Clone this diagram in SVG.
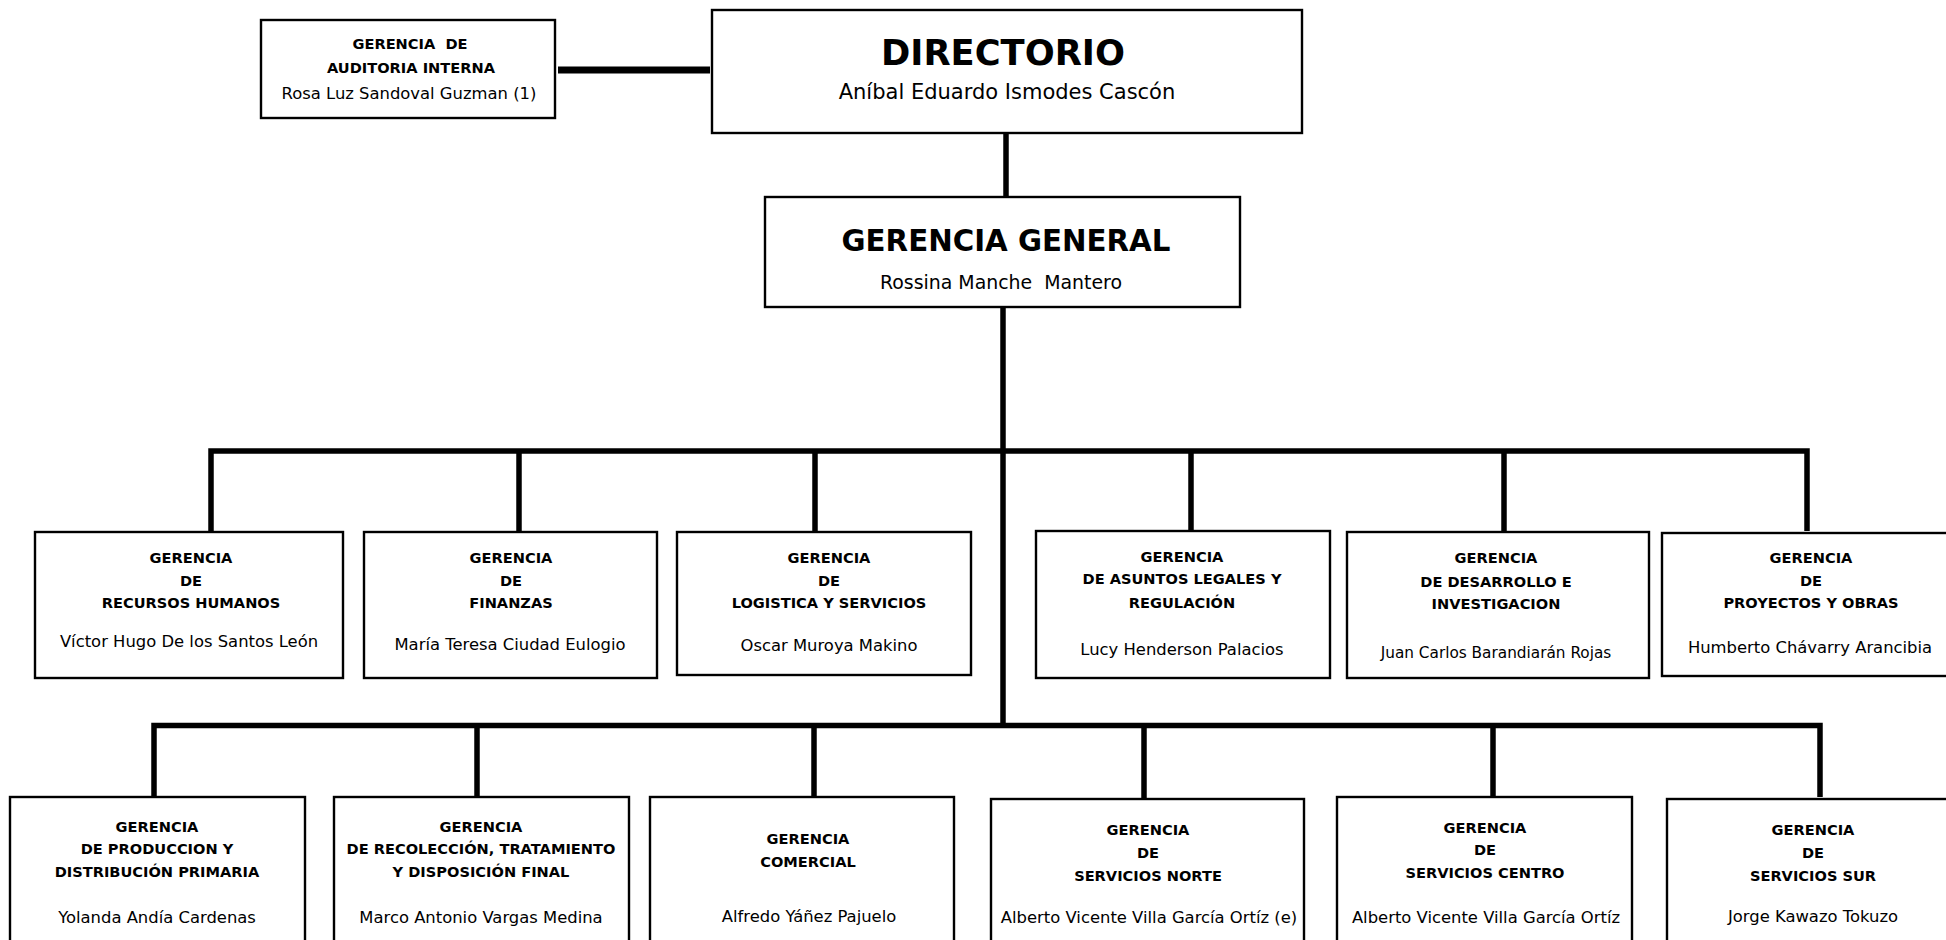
<svg xmlns="http://www.w3.org/2000/svg" width="1946" height="940" viewBox="0 0 1946 940">
<style>
.bg{fill:#ffffff}
.box{fill:#ffffff;stroke:#000000;stroke-width:2.4}
.con{fill:none;stroke:#000000;stroke-width:5.5;stroke-linecap:butt;stroke-linejoin:miter}
text{font-family:"DejaVu Sans","Liberation Sans",sans-serif;fill:#000000;text-anchor:middle}
.h{font-weight:bold;font-size:14.6px}
.n{font-size:16.4px}
.pre{white-space:pre}
</style>
<rect class="bg" x="0" y="0" width="1946" height="940"/>
<g id="connectors">
<line class="con" x1="558" y1="70" x2="710" y2="70" style="stroke-width:7"/>
<line class="con" x1="1006" y1="134" x2="1006" y2="196"/>
<line class="con" x1="1003" y1="308" x2="1003" y2="728"/>
<path class="con" d="M211,531 V451 H1807 V531"/>
<line class="con" x1="519" y1="451" x2="519" y2="531"/>
<line class="con" x1="815" y1="451" x2="815" y2="531"/>
<line class="con" x1="1191" y1="451" x2="1191" y2="531"/>
<line class="con" x1="1504" y1="451" x2="1504" y2="531"/>
<path class="con" d="M154,796 V725.5 H1820 V797"/>
<line class="con" x1="477" y1="725.5" x2="477" y2="796"/>
<line class="con" x1="814" y1="725.5" x2="814" y2="796"/>
<line class="con" x1="1144" y1="725.5" x2="1144" y2="798"/>
<line class="con" x1="1493" y1="725.5" x2="1493" y2="796"/>
</g>
<g id="auditoria">
<rect class="box" x="261" y="20" width="294" height="98"/>
<text class="h pre" x="410" y="49">GERENCIA  DE</text>
<text class="h" x="411" y="73">AUDITORIA INTERNA</text>
<text class="n" x="409" y="99">Rosa Luz Sandoval Guzman (1)</text>
</g>
<g id="directorio">
<rect class="box" x="712" y="10" width="590" height="123"/>
<text x="1003" y="65" style="font-weight:bold;font-size:35.3px">DIRECTORIO</text>
<text x="1007" y="99" style="font-size:21px">Aníbal Eduardo Ismodes Cascón</text>
</g>
<g id="gerencia-general">
<rect class="box" x="765" y="197" width="475" height="110"/>
<text x="1006" y="251" style="font-weight:bold;font-size:29.3px">GERENCIA GENERAL</text>
<text class="pre" x="1001" y="289" style="font-size:18.9px">Rossina Manche  Mantero</text>
</g>
<g id="recursos-humanos">
<rect class="box" x="35" y="532" width="308" height="146"/>
<text class="h" x="191" y="563">GERENCIA</text>
<text class="h" x="191" y="586">DE</text>
<text class="h" x="191" y="608">RECURSOS HUMANOS</text>
<text class="n" x="189" y="647">Víctor Hugo De los Santos León</text>
</g>
<g id="finanzas">
<rect class="box" x="364" y="532" width="293" height="146"/>
<text class="h" x="511" y="563">GERENCIA</text>
<text class="h" x="511" y="586">DE</text>
<text class="h" x="511" y="608">FINANZAS</text>
<text class="n" x="510" y="650">María Teresa Ciudad Eulogio</text>
</g>
<g id="logistica">
<rect class="box" x="677" y="532" width="294" height="143"/>
<text class="h" x="829" y="563">GERENCIA</text>
<text class="h" x="829" y="586">DE</text>
<text class="h" x="829" y="608">LOGISTICA Y SERVICIOS</text>
<text class="n" x="829" y="651">Oscar Muroya Makino</text>
</g>
<g id="asuntos-legales">
<rect class="box" x="1036" y="531" width="294" height="147"/>
<text class="h" x="1182" y="562">GERENCIA</text>
<text class="h" x="1182" y="584">DE ASUNTOS LEGALES Y</text>
<text class="h" x="1182" y="608">REGULACIÓN</text>
<text class="n" x="1182" y="655">Lucy Henderson Palacios</text>
</g>
<g id="desarrollo">
<rect class="box" x="1347" y="532" width="302" height="146"/>
<text class="h" x="1496" y="563">GERENCIA</text>
<text class="h" x="1496" y="587">DE DESARROLLO E</text>
<text class="h" x="1496" y="609">INVESTIGACION</text>
<text x="1496" y="658" style="font-size:15.3px">Juan Carlos Barandiarán Rojas</text>
</g>
<g id="proyectos">
<rect class="box" x="1662" y="533" width="300" height="143"/>
<text class="h" x="1811" y="563">GERENCIA</text>
<text class="h" x="1811" y="586">DE</text>
<text class="h" x="1811" y="608">PROYECTOS Y OBRAS</text>
<text class="n" x="1810" y="653">Humberto Chávarry Arancibia</text>
</g>
<g id="produccion">
<rect class="box" x="10" y="797" width="295" height="160"/>
<text class="h" x="157" y="832">GERENCIA</text>
<text class="h" x="157" y="854">DE PRODUCCION Y</text>
<text class="h" x="157" y="877">DISTRIBUCIÓN PRIMARIA</text>
<text class="n" x="157" y="923">Yolanda Andía Cardenas</text>
</g>
<g id="recoleccion">
<rect class="box" x="334" y="797" width="295" height="160"/>
<text class="h" x="481" y="832">GERENCIA</text>
<text class="h" x="481" y="854">DE RECOLECCIÓN, TRATAMIENTO</text>
<text class="h" x="481" y="877">Y DISPOSICIÓN FINAL</text>
<text class="n" x="481" y="923">Marco Antonio Vargas Medina</text>
</g>
<g id="comercial">
<rect class="box" x="650" y="797" width="304" height="160"/>
<text class="h" x="808" y="844">GERENCIA</text>
<text class="h" x="808" y="867">COMERCIAL</text>
<text class="n" x="809" y="922">Alfredo Yáñez Pajuelo</text>
</g>
<g id="servicios-norte">
<rect class="box" x="991" y="799" width="313" height="160"/>
<text class="h" x="1148" y="835">GERENCIA</text>
<text class="h" x="1148" y="858">DE</text>
<text class="h" x="1148" y="881">SERVICIOS NORTE</text>
<text class="n" x="1149" y="923">Alberto Vicente Villa García Ortíz (e)</text>
</g>
<g id="servicios-centro">
<rect class="box" x="1337" y="797" width="295" height="160"/>
<text class="h" x="1485" y="833">GERENCIA</text>
<text class="h" x="1485" y="855">DE</text>
<text class="h" x="1485" y="878">SERVICIOS CENTRO</text>
<text class="n" x="1486" y="923">Alberto Vicente Villa García Ortíz</text>
</g>
<g id="servicios-sur">
<rect class="box" x="1667" y="799" width="300" height="160"/>
<text class="h" x="1813" y="835">GERENCIA</text>
<text class="h" x="1813" y="858">DE</text>
<text class="h" x="1813" y="881">SERVICIOS SUR</text>
<text class="n" x="1813" y="922">Jorge Kawazo Tokuzo</text>
</g>
</svg>
